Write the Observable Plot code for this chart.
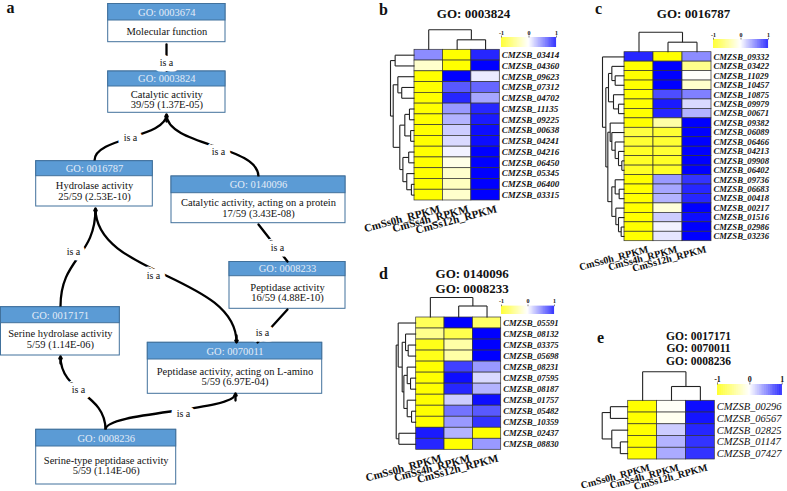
<!DOCTYPE html>
<html><head><meta charset="utf-8">
<script src="https://cdn.jsdelivr.net/npm/d3@7"></script>
<script src="https://cdn.jsdelivr.net/npm/@observablehq/plot@0.6"></script>
<style>
body{margin:0;background:#fff;}
#fig{position:relative;width:787px;height:491px;overflow:hidden;background:#fff;}
#fig svg{position:absolute;left:0;top:0;overflow:visible;}
#fig svg, #fig svg text{font-family:"Liberation Serif","Times New Roman",serif !important;}
</style></head><body><div id="fig"></div>
<script>
// ================= DATA =================
const samples = ["CmSs0h_RPKM", "CmSs4h_RPKM", "CmSs12h_RPKM"];

const titleB = ["GO: 0003824"];
const genesB = ["CMZSB_03414","CMZSB_04360","CMZSB_09623","CMZSB_07312","CMZSB_04702","CMZSB_11135","CMZSB_09225","CMZSB_00638","CMZSB_04241","CMZSB_04216","CMZSB_06450","CMZSB_05345","CMZSB_06400","CMZSB_03315"];
const valuesB = [
  [0.45,-1,0.85],[-0.2,-1,1],[-1,1,0.08],[-1,0.65,0.6],[-1,0.85,0.35],[-1,0.4,0.85],[-1,0.3,0.9],
  [-1,0.2,0.95],[-1,0.15,0.95],[-1,0.05,1],[-1,-0.1,1],[-1,-0.2,1],[-1,-0.25,1],[-1,-0.2,1]];
const rowTreeB = [62,[50,0,1],[55,[43,2,[33,3,4]],[38,[25,[13,5,6],[10,7,8]],[30,[15,9,10],[20,11,[8,12,13]]]]]];
const colTreeB = [20,0,[10,1,2]];

const titleC = ["GO: 0016787"];
const genesC = ["CMZSB_09332","CMZSB_03422","CMZSB_11029","CMZSB_10457","CMZSB_10875","CMZSB_09979","CMZSB_00671","CMZSB_09382","CMZSB_06089","CMZSB_06466","CMZSB_04213","CMZSB_09908","CMZSB_06402","CMZSB_09736","CMZSB_06683","CMZSB_00418","CMZSB_00217","CMZSB_01516","CMZSB_02986","CMZSB_03236"];
const valuesC = [
  [0.85,-1,0.45],[-1,1,-0.45],[-1,1,-0.02],[-1,1,-0.2],[-1,0.7,0.5],[-1,0.9,0.15],[-1,0.85,0.3],
  [-1,-0.35,1],[-0.75,-0.8,1],[-0.8,-0.8,1],[-0.85,-0.8,1],[-0.85,-0.85,1],[-0.85,-0.85,1],
  [-1,0.4,0.8],[-1,0.35,0.85],[-1,0.3,0.85],[-1,-0.15,1],[-1,0.2,0.95],[-1,0.05,1],[-1,0.1,1]];
const rowTreeC = [66,0,[56,[48,[38,1,[28,2,3]],[33,4,[18,5,6]]],[50,[43,7,[38,8,[28,9,[18,10,[8,11,12]]]]],[38,[28,13,[16,14,15]],[26,16,[18,17,[10,18,19]]]]]]];
const colTreeC = [20,0,[10,1,2]];

const titleD = ["GO: 0140096","GO: 0008233"];
const genesD = ["CMZSB_05591","CMZSB_08132","CMZSB_03375","CMZSB_05698","CMZSB_08231","CMZSB_07595","CMZSB_08187","CMZSB_01757","CMZSB_05482","CMZSB_10359","CMZSB_02437","CMZSB_08830"];
const valuesD = [
  [-0.65,1,-0.6],[-0.45,-0.7,1],[-0.9,-0.35,1],[-0.9,-0.35,1],[-1,0.75,0.4],[-1,0.95,0.15],
  [-1,0.85,0.3],[-1,0.2,0.95],[-1,0.55,0.65],[-1,0.4,0.8],[0.9,0.3,-1],[0.85,-1,0.4]];
const rowTreeD = [60,[54,0,[42,[32,1,[24,2,3]],[37,[27,4,[17,5,6]],[27,7,[14,8,9]]]]],[52,10,11]];
const colTreeD = [20,0,[11.5,1,2]];

const titleE = ["GO: 0017171","GO: 0070011","GO: 0008236"];
const genesE = ["CMZSB_00296","CMZSB_06567","CMZSB_02825","CMZSB_01147","CMZSB_07427"];
const valuesE = [[-1,-0.03,0.95],[-1,-0.06,0.92],[-1,0.2,0.85],[-1,0.3,0.8],[-1,0.33,0.8]];
const rowTreeE = [76,[52,0,1],[48,2,[23,3,4]]];
const colTreeE = [29,0,[14.3,1,2]];

const scaleTicks = [-1, 0, 1];
const panelLetters = ["a","b","c","d","e"];

const goIds   = ["GO: 0003674","GO: 0003824","GO: 0016787","GO: 0140096","GO: 0008233","GO: 0070011","GO: 0017171","GO: 0008236"];
const goNames = ["Molecular function","Catalytic activity","Hydrolase activity","Catalytic activity, acting on a protein","Peptidase activity","Peptidase activity, acting on L-amino","Serine hydrolase activity","Serine-type peptidase activity"];
const goStats = ["","39/59 (1.37E-05)","25/59 (2.53E-10)","17/59 (3.43E-08)","16/59 (4.88E-10)","5/59 (6.97E-04)","5/59 (1.14E-06)","5/59 (1.14E-06)"];
const goRelations = [[1,0],[2,1],[3,1],[4,3],[5,4],[2,5],[6,2],[7,6],[7,5]];
const relationLabel = "is a";

// ================= LAYOUT (positions / styles only) =================
const W = 787, H = 491;
const boxLayout = [ // x0, x1, y0, yHeader, y1
  [107.7,225,3.5,20,41.7],[107.7,225,71,86,112.3],[35.7,152.3,160.7,175.7,206],[171,345,176,192.7,222.7],
  [229,345,261.5,275.7,308.3],[147.3,321.7,342.3,359,393.3],[0.5,119.3,306.7,322.7,355],[35.7,175.7,429.3,446,484]];
const edgeLayout = [ // kind, x1,y1,x2,y2, label x,y, bend
  ["line",166,70,166,44,166,62,0],
  ["bump",94,160,166,114,130,137,0],
  ["bump",258,176,166,114,218,151,0],
  ["arc",287,261,258,224,277,247,-45],
  ["arc",257,342,287,309,262,332,-45],
  ["bump",95,208,236,342,153,275,0],
  ["bump",60,306,95,208,73,251,0],
  ["bump",105,429,60,356,78,389,0],
  ["bump",105,429,235,393,183,413,0]];
const panels = {
  b:{x0:414,x1:499.3,y0:49.3,y1:200,dendroW:24,colFont:11,geneFont:9,geneBold:true,labDx:10,labDy:4},
  c:{x0:624,x1:711,y0:51.7,y1:240.7,dendroW:22,colFont:10,geneFont:8.7,geneBold:true,labDx:8,labDy:4},
  d:{x0:415.7,x1:500.7,y0:317,y1:449.3,dendroW:20,colFont:11,geneFont:8.7,geneBold:true,labDx:10,labDy:4},
  e:{x0:627.7,x1:714.3,y0:400.3,y1:459,dendroW:26,colFont:10,geneFont:10.5,geneBold:false,labDx:6,labDy:4}};
const bars = {
  b:{x0:501,x1:556,y0:37,y1:47,fs:6},
  c:{x0:713,x1:768,y0:39,y1:48,fs:6},
  d:{x0:501,x1:554,y0:305.7,y1:314,fs:6},
  e:{x0:717,x1:781.7,y0:384,y1:395,fs:8}};
const titleLayout = [
  {t:titleB,x:473,y:13,dy:0,fs:13},{t:titleC,x:693,y:13,dy:0,fs:13},
  {t:titleD,x:471.7,y:273,dy:15,fs:13},{t:titleE,x:698,y:335.5,dy:12.5,fs:11.5}];
const letterLayout = [[10,7],[383,9],[598,8],[383,273],[600,337]];

const serif = "Liberation Serif";
const colorScale = {type:"linear", domain:[-1,0,1], range:["#ffff00","#ffffff","#0000ff"], interpolate:"rgb"};
const baseStyle = {background:"transparent", overflow:"visible"};
const fig = document.getElementById("fig");

// ================= HELPERS =================
function dendroSegments(tree, scale) {
  const segs = [];
  function walk(node) {
    if (typeof node === "number") return {p: node + 0.5, h: 0};
    const [h, ...kids] = node;
    const ks = kids.map(walk);
    const hh = h * scale;
    ks.forEach(k => segs.push({p1:k.p, h1:k.h, p2:k.p, h2:hh}));
    segs.push({p1:ks[0].p, h1:hh, p2:ks[ks.length-1].p, h2:hh});
    return {p:(ks[0].p + ks[ks.length-1].p)/2, h:hh};
  }
  walk(tree);
  return segs;
}

function heatmap(genes, values, rowTree, colTree, g) {
  const n = genes.length;
  const colW = (g.x1 - g.x0) / samples.length;
  const rowH = (g.y1 - g.y0) / n;
  const cells = values.flatMap((row, r) => row.map((v, c) => ({r, c, v})));
  const rowSegs = dendroSegments(rowTree, g.dendroW / colW / rowTree[0]);
  const colSegs = dendroSegments(colTree, 1 / rowH);
  return Plot.plot({
    width:W, height:H, margin:0, style:baseStyle,
    x:{type:"linear", domain:[0, samples.length], range:[g.x0, g.x1], axis:null},
    y:{type:"linear", domain:[0, n], range:[g.y0, g.y1], axis:null},
    color:colorScale,
    marks:[
      Plot.rect(cells, {x1:d=>d.c, x2:d=>d.c+1, y1:d=>d.r, y2:d=>d.r+1, fill:d=>d.v, stroke:"#333", strokeWidth:0.7}),
      Plot.link(rowSegs, {x1:d=>-d.h1, y1:d=>d.p1, x2:d=>-d.h2, y2:d=>d.p2, stroke:"#222", strokeWidth:1.1}),
      Plot.link(colSegs, {x1:d=>d.p1, y1:d=>-d.h1, x2:d=>d.p2, y2:d=>-d.h2, stroke:"#222", strokeWidth:1.1}),
      Plot.text(genes, {x:samples.length, y:(d,i)=>i+0.5, text:d=>d, textAnchor:"start", dx:2,
        fontSize:g.geneFont, fontStyle:"italic", fontWeight:g.geneBold?"bold":"normal", fill:"#111", fontFamily:serif}),
      Plot.text(samples, {x:(d,i)=>i+0.5, y:n, text:d=>d, rotate:-15, textAnchor:"end", lineAnchor:"top",
        dx:g.labDx, dy:g.labDy, fontSize:g.colFont, fontWeight:"bold", fill:"#111", fontFamily:serif})
    ]
  });
}

function colorbar(b) {
  const ramp = d3.range(-1, 1, 0.02);
  return Plot.plot({
    width:W, height:H, margin:0, style:baseStyle,
    x:{type:"linear", domain:[-1,1], range:[b.x0, b.x1], axis:null},
    y:{type:"linear", domain:[0,1], range:[b.y0, b.y1], axis:null},
    color:colorScale,
    marks:[
      Plot.rect(ramp, {x1:d=>d, x2:d=>d+0.022, y1:0, y2:1, fill:d=>d+0.01}),
      Plot.link(scaleTicks, {x1:d=>d, x2:d=>d, y1:0, y2:-0.2, stroke:"#333", strokeWidth:0.6}),
      Plot.text(scaleTicks, {x:d=>d, y:0, dy:-3, lineAnchor:"bottom", text:d=>String(d), fontSize:b.fs, fontWeight:"bold", fill:"#111", fontFamily:serif})
    ]
  });
}

// ================= PANEL A + annotations =================
const boxes = goIds.map((id, i) => ({id, name:goNames[i], stat:goStats[i], L:boxLayout[i]}));
const edges = goRelations.map((r, i) => ({from:r[0], to:r[1], L:edgeLayout[i]}));
const bumps = edges.filter(e => e.L[0] === "bump");
const arcs = edges.filter(e => e.L[0] !== "bump");
const headTargets = bumps.filter((e, i, a) => a.findIndex(o => o.L[3]===e.L[3] && o.L[4]===e.L[4]) === i);
const titleLines = titleLayout.flatMap(t => t.t.map((s, j) => ({s, x:t.x, y:t.y + j * t.dy, fs:t.fs})));
const letters = panelLetters.map((l, i) => ({l, x:letterLayout[i][0], y:letterLayout[i][1]}));

const annot = Plot.plot({
  width:W, height:H, margin:0, style:baseStyle,
  x:{type:"linear", domain:[0,W], range:[0,W], axis:null},
  y:{type:"linear", domain:[0,H], range:[0,H], axis:null},
  marks:[
    Plot.rect(boxes, {x1:d=>d.L[0], x2:d=>d.L[1], y1:d=>d.L[2], y2:d=>d.L[4], fill:"white", stroke:"#41719c", strokeWidth:1}),
    Plot.rect(boxes, {x1:d=>d.L[0], x2:d=>d.L[1], y1:d=>d.L[2], y2:d=>d.L[3], fill:"#5b9bd5", stroke:"#41719c", strokeWidth:1}),
    Plot.text(boxes, {x:d=>(d.L[0]+d.L[1])/2, y:d=>(d.L[2]+d.L[3])/2, text:d=>d.id, fill:"#e4ecf7", fontSize:10.5, fontFamily:serif}),
    Plot.text(boxes, {x:d=>(d.L[0]+d.L[1])/2, y:d=>(d.L[3]+d.L[4])/2, text:d=>d.stat ? d.name + "\n" + d.stat : d.name,
      fill:"#111", fontSize:10.5, lineHeight:1.0, fontFamily:serif}),
    Plot.link(bumps, {x1:d=>d.L[1], y1:d=>d.L[2], x2:d=>d.L[3], y2:d=>d.L[4], curve:"bump-y", stroke:"black", strokeWidth:2.3}),
    Plot.arrow(arcs, {x1:d=>d.L[1], y1:d=>d.L[2], x2:d=>d.L[3], y2:d=>d.L[4], bend:d=>d.L[7], stroke:"black", strokeWidth:2.3, headLength:8}),
    Plot.text(edges, {x:d=>d.L[5], y:d=>d.L[6], text:()=>relationLabel, fill:"#111", stroke:"white", strokeWidth:11, fontSize:10, fontFamily:serif}),
    Plot.arrow(headTargets, {x1:d=>d.L[3], y1:d=>d.L[4] + (d.L[2] > d.L[4] ? 7 : -7), x2:d=>d.L[3], y2:d=>d.L[4], stroke:"black", strokeWidth:2.3, headLength:8}),
    Plot.text(titleLines.filter(d => d.fs === 13), {x:"x", y:"y", text:"s", fontSize:13, fontWeight:"bold", fill:"#111", fontFamily:serif}),
    Plot.text(titleLines.filter(d => d.fs !== 13), {x:"x", y:"y", text:"s", fontSize:11.5, fontWeight:"bold", fill:"#111", fontFamily:serif}),
    Plot.text(letters, {x:"x", y:"y", text:"l", fontSize:16, fontWeight:"bold", fill:"#111", fontFamily:serif})
  ]
});

fig.appendChild(annot);
fig.appendChild(heatmap(genesB, valuesB, rowTreeB, colTreeB, panels.b));
fig.appendChild(heatmap(genesC, valuesC, rowTreeC, colTreeC, panels.c));
fig.appendChild(heatmap(genesD, valuesD, rowTreeD, colTreeD, panels.d));
fig.appendChild(heatmap(genesE, valuesE, rowTreeE, colTreeE, panels.e));
fig.appendChild(colorbar(bars.b));
fig.appendChild(colorbar(bars.c));
fig.appendChild(colorbar(bars.d));
fig.appendChild(colorbar(bars.e));
</script></body></html>
